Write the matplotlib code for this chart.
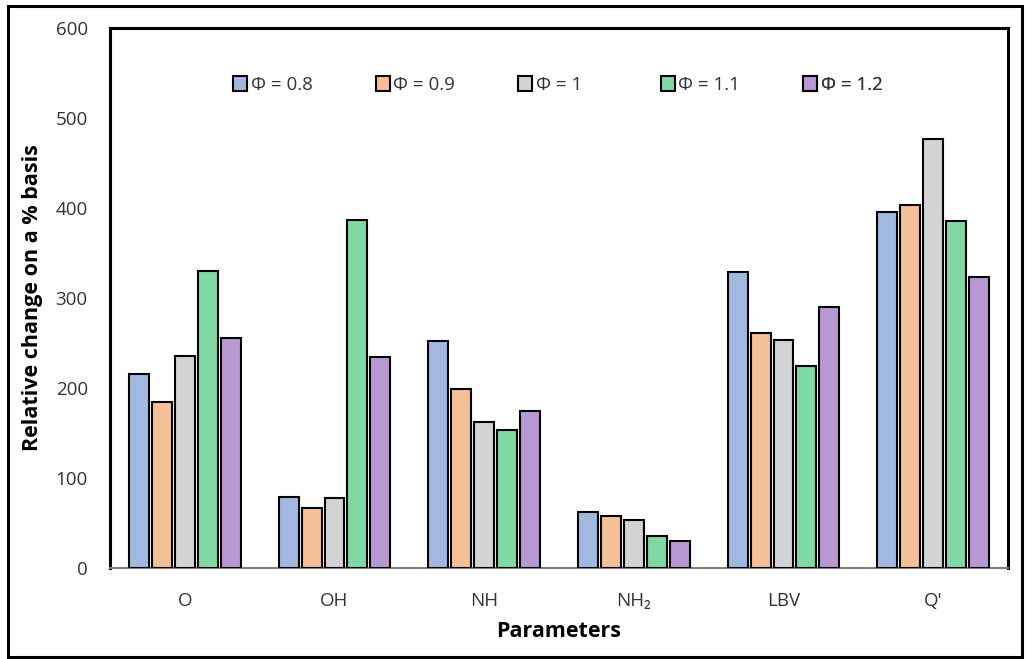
import numpy as np
import matplotlib.pyplot as plt
from matplotlib.patches import Rectangle

dpi = 100

categories = ['O', 'OH', 'NH', 'NH\u2082', 'LBV', "Q'"]
series = ['\u03a6 = 0.8', '\u03a6 = 0.9', '\u03a6 = 1', '\u03a6 = 1.1', '\u03a6 = 1.2']
phi_08 = [216, 79, 252, 62, 329, 396]
phi_09 = [184, 67, 199, 58, 261, 403]
phi_10 = [236, 78, 162, 53, 253, 477]
phi_11 = [330, 387, 153, 36, 225, 386]
phi_12 = [256, 235, 175, 30, 290, 323]
colors = ['#a1b8e1', '#f5bf97', '#d3d3d3', '#80d8a5', '#b898d2']

plt.rcParams['font.family'] = ['Open Sans', 'DejaVu Sans']

fig = plt.figure('chart', figsize=(1029 / dpi, 659 / dpi), dpi=dpi)
ax = fig.add_axes([110 / 1029, 91 / 659, 898 / 1029, 540 / 659])

xx = np.arange(len(categories))
width = 0.133
step = 0.1533
bars = []
for i, (vals, col) in enumerate(zip([phi_08, phi_09, phi_10, phi_11, phi_12], colors)):
    b = ax.bar(xx + (i - 2) * step, vals, width, color=col, edgecolor='black', linewidth=1.5, zorder=3)
    bars += [b]

ax.set_xlim(-0.5, len(categories) - 0.5)
ax.set_ylim(0, 600)
ax.set_yticks(np.arange(0, 601, 100))
ax.set_xticks(xx)
ax.set_xticklabels(categories)
ax.tick_params(axis='both', length=0, labelsize=13.5, colors='#333333')
ax.tick_params(axis='y', pad=16)
ax.tick_params(axis='x', pad=17)

for side in ['left', 'top', 'right']:
    ax.spines[side].set_linewidth(2.2)
    ax.spines[side].set_color('black')
ax.spines['bottom'].set_color('#7f7f7f')
ax.spines['bottom'].set_linewidth(1.5)

ax.set_ylabel('Relative change on a % basis', fontsize=15.5, fontweight='bold', labelpad=9)
ax.set_xlabel('Parameters', fontsize=15.5, fontweight='bold', labelpad=8)

# Excel-style legend: equal slots, one small legend per entry
for i, (b, name) in enumerate(zip(bars, series)):
    x0 = (233 + 142.5 * i - 110) / 898
    leg = ax.legend([b], [name], loc='center left', bbox_to_anchor=(x0, 0.895), frameon=False,
                    fontsize=13.5, handlelength=0.75, handleheight=0.9, handletextpad=0.2,
                    borderpad=0, borderaxespad=0, labelcolor='#333333')
    ax.add_artist(leg)

# outer frame round the whole chart
fig.patches.append(Rectangle((8 / 1029, 2 / 659), 1014 / 1029, 651 / 659, transform=fig.transFigure,
                             fill=False, edgecolor='black', linewidth=2.2))

plt.savefig('out.png', dpi=dpi)
